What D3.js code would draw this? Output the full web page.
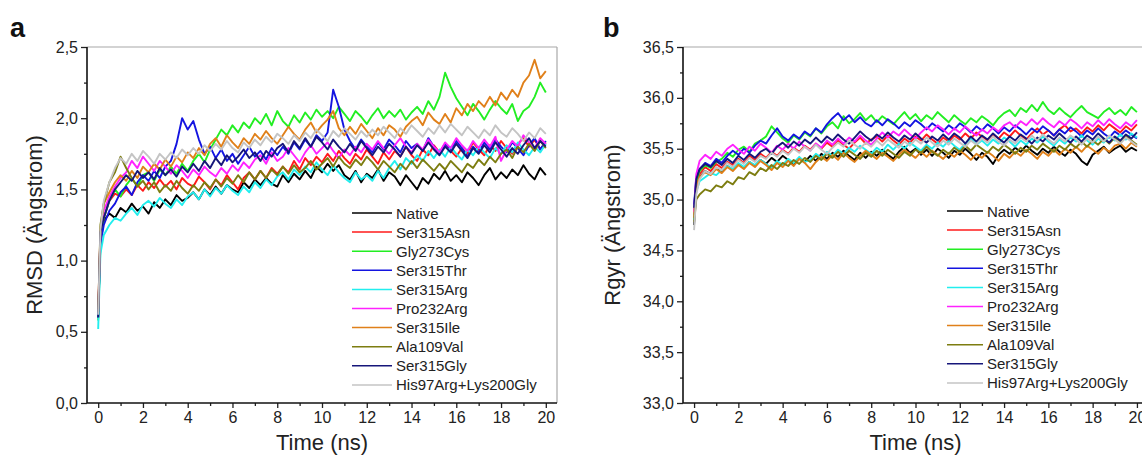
<!DOCTYPE html>
<html><head><meta charset="utf-8">
<script src="https://cdn.jsdelivr.net/npm/d3@7"></script>
<style>body{margin:0;background:#fff;} svg{display:block;font-family:"Liberation Sans",Arial,sans-serif;}</style>
</head><body>
<svg id="c" width="1142" height="456"></svg>
<script>
const names = ["Native","Ser315Asn","Gly273Cys","Ser315Thr","Ser315Arg","Pro232Arg","Ser315Ile","Ala109Val","Ser315Gly","His97Arg+Lys200Gly"];
const colors = ["#000000","#ff1a1a","#22ee22","#1414e0","#22eeee","#ff22ff","#e0801a","#7d7d10","#16167a","#c4c4c4"];
const time = [0,0.1,
0.25,0.5,0.75,1,1.25,1.5,1.75,2,2.25,2.5,2.75,3,3.25,3.5,3.75,4,4.25,4.5,4.75,5,
5.25,5.5,5.75,6,6.25,6.5,6.75,7,7.25,7.5,7.75,8,8.25,8.5,8.75,9,9.25,9.5,9.75,10,
10.25,10.5,10.75,11,11.25,11.5,11.75,12,12.25,12.5,12.75,13,13.25,13.5,13.75,14,14.25,14.5,14.75,15,
15.25,15.5,15.75,16,16.25,16.5,16.75,17,17.25,17.5,17.75,18,18.25,18.5,18.75,19,19.25,19.5,19.75,20];

const rmsdNative = [0.60,1.18,1.28,1.33,1.30,1.37,1.34,1.40,1.35,1.38,1.33,1.41,1.37,1.43,1.39,1.46,1.42,1.44,1.48,1.43,1.50,1.46,1.52,1.47,1.53,1.50,1.48,1.55,1.51,1.57,1.53,1.58,1.54,1.52,1.60,1.55,1.61,1.57,1.63,1.58,1.66,1.62,1.68,1.63,1.67,1.60,1.57,1.63,1.55,1.61,1.58,1.64,1.56,1.62,1.59,1.53,1.60,1.55,1.50,1.58,1.54,1.61,1.57,1.63,1.56,1.60,1.55,1.62,1.58,1.53,1.60,1.65,1.57,1.62,1.58,1.64,1.60,1.67,1.61,1.57,1.65,1.60];
const rmsdSer315Asn = [0.62,1.15,1.30,1.42,1.47,1.45,1.50,1.46,1.53,1.49,1.55,1.51,1.57,1.52,1.56,1.50,1.58,1.54,1.52,1.59,1.55,1.50,1.57,1.53,1.60,1.55,1.50,1.58,1.62,1.57,1.63,1.58,1.65,1.61,1.66,1.62,1.70,1.64,1.72,1.67,1.73,1.69,1.75,1.70,1.77,1.72,1.68,1.75,1.71,1.78,1.73,1.68,1.76,1.71,1.77,1.73,1.80,1.74,1.70,1.78,1.74,1.81,1.76,1.82,1.77,1.73,1.79,1.75,1.83,1.78,1.74,1.81,1.77,1.84,1.79,1.75,1.82,1.86,1.80,1.85,1.78,1.83];
const rmsdGly273Cys = [0.58,1.10,1.30,1.42,1.50,1.45,1.53,1.58,1.52,1.60,1.62,1.56,1.64,1.60,1.66,1.61,1.68,1.63,1.70,1.75,1.69,1.78,1.85,1.92,1.88,1.95,1.90,1.97,1.93,2.00,1.96,2.03,1.95,2.05,1.98,1.94,2.02,1.97,2.04,1.99,2.06,2.01,2.05,2.00,2.08,2.03,1.98,2.05,2.01,1.96,2.02,2.07,2.00,2.05,2.01,2.06,1.99,2.04,2.08,2.03,2.12,2.06,2.15,2.32,2.22,2.14,2.08,2.02,2.10,2.05,1.99,2.06,2.12,2.07,2.03,2.10,1.98,2.05,2.08,2.15,2.25,2.18];
const rmsdSer315Thr = [0.60,1.12,1.25,1.35,1.40,1.48,1.52,1.46,1.55,1.60,1.56,1.63,1.58,1.66,1.70,1.82,2.00,1.92,1.98,1.85,1.75,1.80,1.72,1.78,1.70,1.75,1.68,1.74,1.80,1.73,1.77,1.71,1.79,1.74,1.80,1.75,1.83,1.78,1.85,1.80,1.88,1.84,1.90,2.20,2.08,1.92,1.84,1.78,1.85,1.80,1.76,1.83,1.78,1.85,1.81,1.76,1.84,1.79,1.82,1.77,1.86,1.80,1.75,1.82,1.78,1.84,1.79,1.73,1.80,1.76,1.83,1.78,1.85,1.80,1.76,1.83,1.79,1.74,1.81,1.86,1.78,1.84];
const rmsdSer315Arg = [0.52,1.05,1.18,1.25,1.30,1.28,1.33,1.37,1.32,1.39,1.42,1.38,1.44,1.40,1.37,1.43,1.39,1.45,1.48,1.43,1.50,1.45,1.51,1.47,1.53,1.49,1.46,1.52,1.48,1.55,1.51,1.57,1.53,1.59,1.62,1.57,1.64,1.60,1.66,1.62,1.69,1.64,1.60,1.67,1.62,1.58,1.55,1.62,1.57,1.60,1.56,1.63,1.58,1.65,1.70,1.64,1.72,1.68,1.74,1.70,1.77,1.72,1.78,1.73,1.80,1.75,1.71,1.78,1.74,1.80,1.76,1.72,1.79,1.75,1.81,1.76,1.83,1.78,1.74,1.80,1.76,1.82];
const rmsdPro232Arg = [0.65,1.20,1.35,1.45,1.52,1.58,1.62,1.70,1.65,1.73,1.68,1.63,1.70,1.66,1.61,1.67,1.63,1.58,1.64,1.60,1.66,1.62,1.59,1.65,1.61,1.67,1.63,1.69,1.65,1.71,1.74,1.68,1.76,1.70,1.73,1.79,1.74,1.69,1.76,1.81,1.75,1.79,1.83,1.77,1.72,1.78,1.74,1.80,1.76,1.82,1.78,1.84,1.79,1.75,1.81,1.86,1.80,1.76,1.82,1.78,1.85,1.80,1.76,1.83,1.79,1.86,1.81,1.77,1.84,1.79,1.85,1.80,1.87,1.70,1.78,1.84,1.80,1.88,1.83,1.79,1.86,1.82];
const rmsdSer315Ile = [0.66,1.22,1.40,1.48,1.55,1.60,1.56,1.63,1.58,1.66,1.62,1.68,1.64,1.71,1.66,1.73,1.69,1.76,1.72,1.79,1.74,1.82,1.86,1.80,1.88,1.83,1.79,1.86,1.82,1.89,1.85,1.91,1.86,1.82,1.88,1.94,1.89,1.85,1.92,1.97,1.90,1.95,1.99,2.05,1.93,1.88,1.94,1.89,1.96,1.91,1.86,1.93,1.88,1.95,1.92,1.87,1.94,1.98,2.01,1.95,2.04,1.99,1.96,2.03,1.97,2.07,2.02,2.10,2.05,2.12,2.08,2.15,2.09,2.18,2.13,2.20,2.15,2.25,2.30,2.41,2.28,2.33];
const rmsdAla109Val = [0.64,1.25,1.40,1.55,1.62,1.73,1.65,1.58,1.52,1.56,1.50,1.55,1.48,1.53,1.49,1.56,1.51,1.47,1.53,1.49,1.55,1.51,1.57,1.52,1.58,1.54,1.60,1.55,1.62,1.57,1.63,1.58,1.64,1.60,1.66,1.61,1.67,1.62,1.65,1.70,1.64,1.68,1.72,1.66,1.73,1.68,1.65,1.71,1.67,1.73,1.69,1.64,1.70,1.66,1.62,1.68,1.64,1.70,1.65,1.71,1.67,1.63,1.68,1.64,1.70,1.66,1.62,1.68,1.65,1.71,1.67,1.73,1.69,1.75,1.78,1.72,1.80,1.76,1.82,1.77,1.84,1.79];
const rmsdSer315Gly = [0.60,1.20,1.30,1.42,1.50,1.55,1.60,1.56,1.63,1.58,1.62,1.57,1.65,1.60,1.64,1.59,1.66,1.62,1.68,1.63,1.70,1.65,1.72,1.67,1.74,1.69,1.73,1.78,1.72,1.76,1.70,1.77,1.73,1.79,1.82,1.76,1.84,1.79,1.86,1.80,1.87,1.83,1.78,1.85,1.80,1.76,1.82,1.77,1.84,1.79,1.74,1.80,1.76,1.82,1.78,1.73,1.80,1.75,1.81,1.77,1.83,1.78,1.74,1.80,1.76,1.82,1.77,1.72,1.79,1.75,1.81,1.76,1.83,1.78,1.73,1.79,1.75,1.81,1.86,1.79,1.84,1.80];
const rmsdHis97Arg = [0.62,1.22,1.42,1.55,1.65,1.72,1.68,1.75,1.70,1.77,1.73,1.68,1.75,1.71,1.76,1.72,1.78,1.74,1.79,1.75,1.81,1.77,1.82,1.78,1.84,1.79,1.76,1.83,1.79,1.85,1.81,1.87,1.83,1.89,1.86,1.82,1.88,1.84,1.90,1.86,1.92,1.88,1.84,1.91,1.87,1.93,1.89,1.85,1.91,1.87,1.92,1.88,1.94,1.90,1.86,1.93,1.89,1.95,1.91,1.87,1.93,1.89,1.95,1.90,1.96,1.92,1.88,1.94,1.90,1.86,1.92,1.88,1.95,1.90,1.87,1.93,1.89,1.84,1.90,1.86,1.93,1.89];

const rgyrNative = [34.75,35.10,35.22,35.28,35.25,35.31,35.27,35.33,35.29,35.35,35.31,35.37,35.33,35.39,35.35,35.41,35.37,35.43,35.39,35.34,35.41,35.37,35.43,35.38,35.45,35.40,35.46,35.42,35.48,35.43,35.39,35.46,35.41,35.47,35.43,35.49,35.44,35.40,35.47,35.52,35.46,35.50,35.44,35.49,35.43,35.50,35.46,35.41,35.48,35.44,35.50,35.45,35.39,35.46,35.42,35.35,35.44,35.49,35.45,35.51,35.47,35.53,35.48,35.44,35.50,35.46,35.52,35.47,35.43,35.49,35.45,35.38,35.34,35.44,35.48,35.52,35.46,35.50,35.53,35.47,35.51,35.48];
const rgyrSer315Asn = [34.85,35.15,35.25,35.32,35.28,35.35,35.31,35.37,35.34,35.40,35.36,35.43,35.39,35.45,35.41,35.47,35.43,35.49,35.45,35.51,35.47,35.53,35.49,35.55,35.50,35.56,35.52,35.58,35.54,35.50,35.56,35.61,35.55,35.59,35.62,35.57,35.63,35.58,35.54,35.60,35.56,35.62,35.58,35.64,35.59,35.55,35.61,35.57,35.63,35.59,35.65,35.60,35.66,35.62,35.58,35.64,35.60,35.66,35.62,35.68,35.63,35.59,35.65,35.70,35.64,35.68,35.63,35.69,35.73,35.67,35.70,35.65,35.71,35.67,35.73,35.68,35.74,35.70,35.66,35.72,35.68,35.74];
const rgyrGly273Cys = [34.90,35.18,35.28,35.34,35.31,35.37,35.40,35.46,35.42,35.49,35.52,35.47,35.55,35.58,35.62,35.72,35.66,35.60,35.56,35.63,35.59,35.66,35.62,35.70,35.65,35.72,35.76,35.70,35.82,35.75,35.79,35.85,35.78,35.83,35.76,35.82,35.78,35.74,35.80,35.86,35.79,35.84,35.77,35.83,35.79,35.86,35.81,35.76,35.83,35.78,35.74,35.80,35.76,35.82,35.78,35.73,35.80,35.85,35.88,35.82,35.90,35.86,35.93,35.87,35.96,35.88,35.84,35.90,35.85,35.81,35.87,35.92,35.86,35.83,35.80,35.86,35.90,35.84,35.88,35.83,35.91,35.86];
const rgyrSer315Thr = [34.95,35.22,35.30,35.36,35.33,35.40,35.36,35.43,35.48,35.44,35.50,35.46,35.53,35.58,35.55,35.63,35.70,35.62,35.58,35.64,35.60,35.67,35.63,35.70,35.66,35.74,35.80,35.85,35.78,35.83,35.76,35.81,35.75,35.72,35.78,35.73,35.79,35.75,35.70,35.76,35.72,35.78,35.74,35.69,35.75,35.71,35.67,35.73,35.69,35.75,35.71,35.66,35.72,35.68,35.74,35.70,35.65,35.71,35.67,35.73,35.69,35.64,35.70,35.66,35.72,35.68,35.63,35.69,35.65,35.71,35.67,35.62,35.68,35.64,35.70,35.65,35.61,35.67,35.63,35.68,35.64,35.60];
const rgyrSer315Arg = [34.80,35.08,35.18,35.22,35.26,35.24,35.29,35.33,35.30,35.36,35.32,35.37,35.34,35.39,35.35,35.31,35.38,35.34,35.40,35.36,35.42,35.37,35.39,35.45,35.41,35.47,35.43,35.49,35.45,35.51,35.47,35.53,35.49,35.45,35.51,35.47,35.54,35.49,35.55,35.50,35.56,35.52,35.48,35.54,35.50,35.56,35.52,35.58,35.53,35.49,35.55,35.60,35.54,35.58,35.53,35.59,35.55,35.61,35.57,35.52,35.58,35.54,35.60,35.56,35.62,35.57,35.53,35.59,35.55,35.61,35.57,35.63,35.58,35.54,35.60,35.56,35.62,35.58,35.64,35.59,35.65,35.61];
const rgyrPro232Arg = [34.88,35.25,35.38,35.44,35.40,35.47,35.43,35.50,35.54,35.49,35.45,35.52,35.48,35.55,35.51,35.46,35.53,35.49,35.55,35.50,35.57,35.52,35.48,35.55,35.51,35.58,35.54,35.60,35.55,35.61,35.57,35.63,35.58,35.54,35.60,35.66,35.61,35.67,35.63,35.69,35.64,35.60,35.66,35.71,35.67,35.73,35.69,35.64,35.70,35.66,35.72,35.67,35.63,35.69,35.65,35.71,35.67,35.73,35.76,35.71,35.77,35.73,35.79,35.74,35.80,35.75,35.71,35.77,35.73,35.79,35.75,35.70,35.76,35.72,35.78,35.73,35.79,35.74,35.70,35.76,35.72,35.78];
const rgyrSer315Ile = [34.82,35.12,35.22,35.27,35.24,35.30,35.26,35.32,35.28,35.34,35.30,35.36,35.32,35.38,35.34,35.29,35.36,35.32,35.38,35.33,35.40,35.36,35.30,35.37,35.42,35.38,35.44,35.39,35.46,35.41,35.37,35.43,35.48,35.44,35.40,35.46,35.42,35.38,35.44,35.49,35.45,35.41,35.47,35.42,35.48,35.44,35.40,35.46,35.42,35.48,35.44,35.39,35.45,35.41,35.47,35.43,35.38,35.45,35.41,35.47,35.43,35.49,35.45,35.40,35.47,35.43,35.49,35.44,35.50,35.46,35.52,35.47,35.53,35.49,35.45,35.51,35.47,35.53,35.55,35.50,35.56,35.52];
const rgyrAla109Val = [34.78,35.00,35.05,35.10,35.08,35.14,35.12,35.18,35.15,35.22,35.20,35.27,35.24,35.31,35.28,35.34,35.30,35.36,35.33,35.39,35.35,35.41,35.37,35.43,35.39,35.45,35.41,35.47,35.42,35.48,35.44,35.40,35.46,35.42,35.48,35.43,35.49,35.45,35.41,35.47,35.43,35.49,35.46,35.52,35.47,35.43,35.49,35.45,35.51,35.47,35.53,35.48,35.54,35.50,35.46,35.52,35.48,35.54,35.50,35.45,35.51,35.47,35.53,35.49,35.55,35.51,35.47,35.53,35.49,35.55,35.51,35.57,35.52,35.58,35.54,35.60,35.55,35.61,35.57,35.63,35.58,35.54];
const rgyrSer315Gly = [34.92,35.20,35.30,35.35,35.32,35.38,35.34,35.40,35.36,35.43,35.39,35.45,35.41,35.47,35.50,35.45,35.52,35.56,35.51,35.57,35.53,35.59,35.55,35.61,35.56,35.62,35.58,35.64,35.59,35.55,35.61,35.67,35.62,35.58,35.64,35.60,35.66,35.61,35.57,35.63,35.59,35.65,35.60,35.56,35.62,35.58,35.64,35.59,35.65,35.61,35.55,35.62,35.57,35.63,35.59,35.65,35.60,35.56,35.62,35.58,35.64,35.60,35.55,35.61,35.57,35.63,35.59,35.65,35.60,35.56,35.62,35.57,35.63,35.59,35.65,35.60,35.56,35.62,35.58,35.64,35.60,35.66];
const rgyrHis97Arg = [34.70,35.05,35.20,35.28,35.25,35.32,35.29,35.36,35.32,35.39,35.35,35.41,35.37,35.43,35.40,35.46,35.42,35.48,35.44,35.50,35.46,35.52,35.48,35.54,35.49,35.45,35.51,35.56,35.52,35.58,35.54,35.50,35.56,35.52,35.58,35.53,35.59,35.55,35.51,35.57,35.53,35.59,35.55,35.61,35.56,35.52,35.58,35.54,35.60,35.56,35.52,35.58,35.54,35.60,35.56,35.62,35.57,35.53,35.59,35.55,35.61,35.57,35.63,35.58,35.64,35.59,35.55,35.61,35.57,35.63,35.59,35.54,35.60,35.56,35.62,35.57,35.63,35.59,35.55,35.61,35.57,35.53];

const rmsdSeries = [rmsdNative,rmsdSer315Asn,rmsdGly273Cys,rmsdSer315Thr,rmsdSer315Arg,rmsdPro232Arg,rmsdSer315Ile,rmsdAla109Val,rmsdSer315Gly,rmsdHis97Arg];
const rgyrSeries = [rgyrNative,rgyrSer315Asn,rgyrGly273Cys,rgyrSer315Thr,rgyrSer315Arg,rgyrPro232Arg,rgyrSer315Ile,rgyrAla109Val,rgyrSer315Gly,rgyrHis97Arg];

const xTicks = [0,2,4,6,8,10,12,14,16,18,20];
const xMinor = [1,3,5,7,9,11,13,15,17,19];
const yTicksA = [0,0.5,1.0,1.5,2.0,2.5];
const yTickLabelsA = ["0,0","0,5","1,0","1,5","2,0","2,5"];
const yMinorA = [0.25,0.75,1.25,1.75,2.25];
const yTicksB = [33.0,33.5,34.0,34.5,35.0,35.5,36.0,36.5];
const yTickLabelsB = ["33,0","33,5","34,0","34,5","35,0","35,5","36,0","36,5"];
const yMinorB = [33.25,33.75,34.25,34.75,35.25,35.75,36.25];

const svg = d3.select("#c");

function panel(cfg){
  const g = svg.append("g");
  const x = d3.scaleLinear().domain([-0.5,20.5]).range([cfg.left, cfg.right]);
  const y = d3.scaleLinear().domain(cfg.ydom).range([403,47]);
  g.append("line").attr("x1",cfg.left).attr("x2",cfg.right).attr("y1",47).attr("y2",47).attr("stroke","#a8a8a8").attr("stroke-width",1.2);
  g.append("line").attr("x1",cfg.right).attr("x2",cfg.right).attr("y1",47).attr("y2",403).attr("stroke","#a8a8a8").attr("stroke-width",1.2);
  const line = d3.line().x((d,i)=>x(time[i])).y(d=>y(d));
  const clip = "clip"+cfg.id;
  svg.append("clipPath").attr("id",clip).append("rect").attr("x",cfg.left).attr("y",47).attr("width",cfg.right-cfg.left).attr("height",356);
  const lg = g.append("g").attr("clip-path","url(#"+clip+")");
  cfg.series.forEach((s,k)=>{
    lg.append("path").datum(s).attr("d",line).attr("fill","none").attr("stroke",colors[k]).attr("stroke-width",1.9).attr("stroke-linejoin","round");
  });
  const xa = d3.axisBottom(x).tickValues(xTicks).tickSize(5).tickPadding(4).tickFormat(d=>d);
  const xag = g.append("g").attr("transform","translate(0,403)").call(xa);
  xag.select(".domain").remove();
  g.append("g").attr("transform","translate(0,403)").call(d3.axisBottom(x).tickValues(xMinor).tickSize(3).tickFormat("")).select(".domain").remove();
  const ya = d3.axisLeft(y).tickValues(cfg.yticks).tickSize(6).tickPadding(3).tickFormat((d,i)=>cfg.ylabels[i]);
  const yag = g.append("g").attr("transform","translate("+cfg.left+",0)").call(ya);
  yag.select(".domain").remove();
  g.append("g").attr("transform","translate("+cfg.left+",0)").call(d3.axisLeft(y).tickValues(cfg.yminor).tickSize(3).tickFormat("")).select(".domain").remove();
  g.selectAll(".tick line").attr("stroke","#222").attr("stroke-width",1.3);
  g.selectAll(".tick text").attr("font-size",16).attr("fill","#222").attr("font-family","'Liberation Sans',Arial,sans-serif");
  g.append("line").attr("x1",cfg.left).attr("x2",cfg.right).attr("y1",403).attr("y2",403).attr("stroke","#111").attr("stroke-width",1.6);
  g.append("line").attr("x1",cfg.left).attr("x2",cfg.left).attr("y1",47).attr("y2",403).attr("stroke","#111").attr("stroke-width",1.6);
  g.append("text").attr("x",x(10)).attr("y",450).attr("text-anchor","middle").attr("font-size",22).attr("fill","#222").text("Time (ns)");
  g.append("text").attr("transform","translate("+cfg.ytx+",225) rotate(-90)").attr("text-anchor","middle").attr("font-size",22).attr("fill","#222").text(cfg.ytitle);
  g.append("text").attr("x",cfg.lx).attr("y",37).attr("font-size",27).attr("font-weight","bold").attr("fill","#111").text(cfg.label);
  names.forEach((n,k)=>{
    const yy = cfg.legY + k*19.1;
    g.append("line").attr("x1",cfg.legX).attr("x2",cfg.legX+cfg.legW).attr("y1",yy).attr("y2",yy).attr("stroke",colors[k]).attr("stroke-width",1.5);
    g.append("text").attr("x",cfg.legX+cfg.legW+4).attr("y",yy+5.5).attr("font-size",15).attr("fill","#222").text(n);
  });
}

panel({id:"a",left:87,right:557,ydom:[0,2.5],series:rmsdSeries,yticks:yTicksA,ylabels:yTickLabelsA,yminor:yMinorA,ytitle:"RMSD (Ängstrom)",ytx:42,label:"a",lx:10,legX:352,legW:40,legY:213});
panel({id:"b",left:683,right:1148,ydom:[33,36.5],series:rgyrSeries,yticks:yTicksB,ylabels:yTickLabelsB,yminor:yMinorB,ytitle:"Rgyr (Ängstrom)",ytx:620,label:"b",lx:603,legX:947,legW:36,legY:211});
</script>
</body></html>
